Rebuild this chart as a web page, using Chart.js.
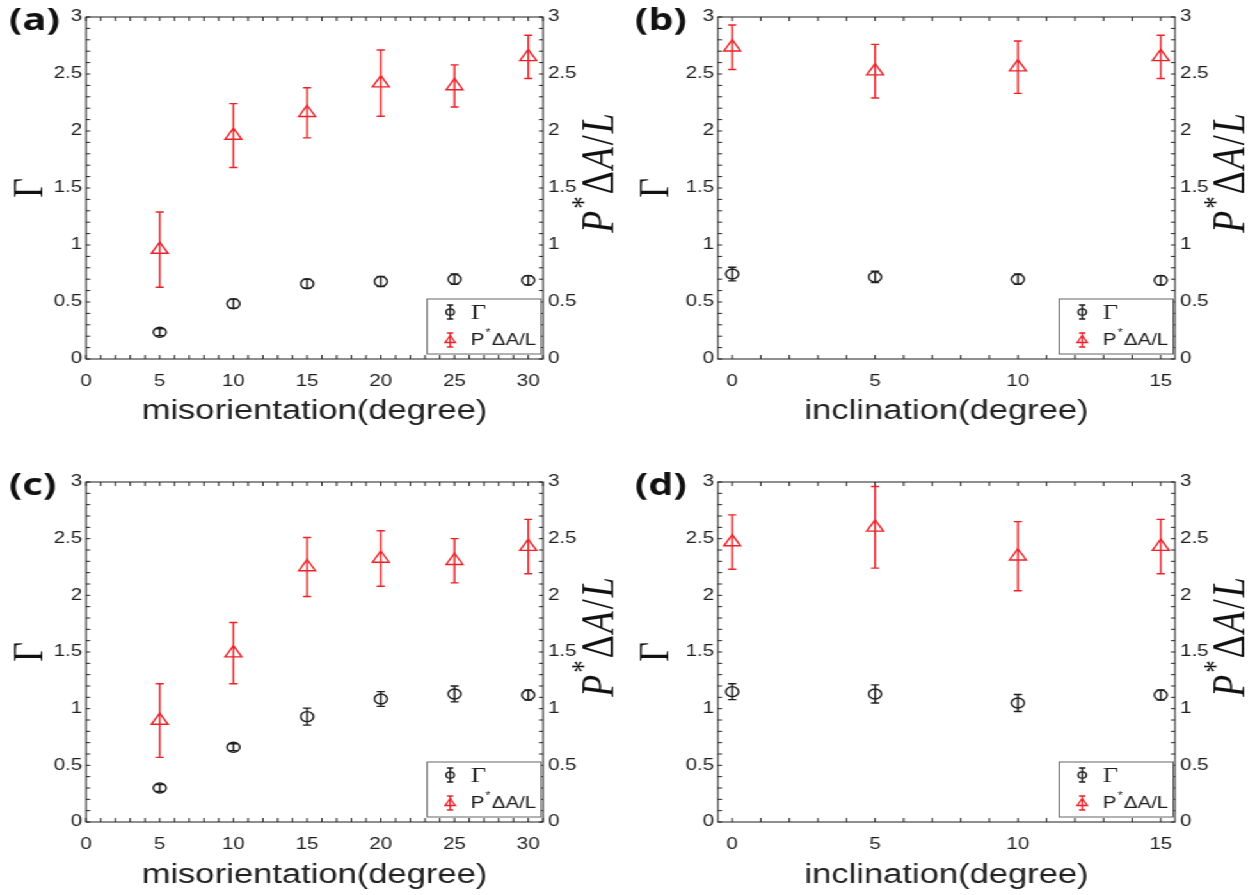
<!DOCTYPE html>
<html>
<head>
<meta charset="utf-8">
<script src="https://cdn.jsdelivr.net/npm/chart.js@4.4.1/dist/chart.umd.min.js"></script>
<style>
  html, body { margin: 0; padding: 0; background: #fff; }
  body { width: 1253px; height: 895px; overflow: hidden; position: relative; }
  /* the source figure is stretched sideways, so draw narrow and stretch */
  #stage { position: absolute; left: 0; top: 0; width: 979px; height: 895px;
           transform: scaleX(1.28); transform-origin: 0 0; }
  #stage canvas { position: absolute; }
</style>
</head>
<body>
<div id="stage">
  <canvas id="pa" width="489" height="445" style="left:0px;top:0px"></canvas>
  <canvas id="pb" width="490" height="445" style="left:489px;top:0px"></canvas>
  <canvas id="pc" width="489" height="450" style="left:0px;top:445px"></canvas>
  <canvas id="pd" width="490" height="450" style="left:489px;top:445px"></canvas>
</div>
<script>
const misorientation = [5, 10, 15, 20, 25, 30];
const inclination = [0, 5, 10, 15];
const misTicks = [0, 5, 10, 15, 20, 25, 30];
const incTicks = [0, 5, 10, 15];
const yTicks = [0, 0.5, 1, 1.5, 2, 2.5, 3];

// (a) misorientation
const gammaA = [0.235, 0.485, 0.66, 0.68, 0.70, 0.69];
const gammaErrA = [0.03, 0.04, 0.04, 0.045, 0.045, 0.04];
const pdalA = [0.96, 1.96, 2.16, 2.42, 2.395, 2.65];
const pdalErrA = [0.33, 0.28, 0.22, 0.29, 0.185, 0.19];
// (b) inclination
const gammaB = [0.745, 0.72, 0.70, 0.69];
const gammaErrB = [0.06, 0.05, 0.045, 0.04];
const pdalB = [2.735, 2.525, 2.56, 2.65];
const pdalErrB = [0.195, 0.235, 0.23, 0.19];
// (c) misorientation
const gammaC = [0.30, 0.66, 0.93, 1.085, 1.13, 1.12];
const gammaErrC = [0.03, 0.03, 0.075, 0.065, 0.07, 0.045];
const pdalC = [0.895, 1.49, 2.25, 2.325, 2.305, 2.43];
const pdalErrC = [0.325, 0.27, 0.26, 0.245, 0.195, 0.24];
// (d) inclination
const gammaD = [1.15, 1.13, 1.05, 1.12];
const gammaErrD = [0.07, 0.08, 0.075, 0.045];
const pdalD = [2.47, 2.60, 2.345, 2.43];
const pdalErrD = [0.24, 0.36, 0.305, 0.24];

const RED = "#ea2228";
const INK = "#1e1e1e";
const SANS = "'Liberation Sans', Arial, sans-serif";
const SERIF = "'Liberation Serif', 'Times New Roman', serif";

function pts(xs, ys) {
  return xs.map((x, i) => ({ x: x, y: ys[i] }));
}

// frame + inward ticks on all four sides
const framePlugin = {
  id: "frame",
  beforeDatasetsDraw(chart) {
    const { ctx, chartArea: a, scales } = chart;
    ctx.save();
    ctx.strokeStyle = INK;
    ctx.lineWidth = 1;
    ctx.beginPath();
    for (let v = Math.ceil(scales.x.min); v <= scales.x.max; v++) {
      const px = scales.x.getPixelForValue(v);
      ctx.moveTo(px, a.bottom); ctx.lineTo(px, a.bottom - 4);
      ctx.moveTo(px, a.top); ctx.lineTo(px, a.top + 4);
    }
    for (let i = 0; i <= 30; i++) {
      const py = scales.y.getPixelForValue(i / 10);
      ctx.moveTo(a.left, py); ctx.lineTo(a.left + 3.2, py);
      ctx.moveTo(a.right, py); ctx.lineTo(a.right - 3.2, py);
    }
    ctx.stroke();
    ctx.strokeRect(a.left, a.top, a.right - a.left, a.bottom - a.top);
    ctx.restore();
  }
};

const errorBarPlugin = {
  id: "errorBars",
  afterDatasetsDraw(chart) {
    const ctx = chart.ctx;
    ctx.save();
    chart.data.datasets.forEach((ds, i) => {
      const meta = chart.getDatasetMeta(i);
      const ys = chart.scales[meta.yAxisID];
      ctx.strokeStyle = ds.borderColor;
      ctx.lineWidth = 1.4;
      meta.data.forEach((pt, j) => {
        const v = ds.data[j].y, e = ds.errors[j];
        const y1 = ys.getPixelForValue(v + e);
        const y2 = ys.getPixelForValue(v - e);
        const cap = 3.2;
        ctx.beginPath();
        ctx.moveTo(pt.x, y1); ctx.lineTo(pt.x, y2);
        ctx.moveTo(pt.x - cap, y1); ctx.lineTo(pt.x + cap, y1);
        ctx.moveTo(pt.x - cap, y2); ctx.lineTo(pt.x + cap, y2);
        ctx.stroke();
      });
    });
    ctx.restore();
  }
};

// legend box, panel letter and the right axis title
const decorPlugin = {
  id: "decor",
  afterDraw(chart, args, opts) {
    const { ctx, chartArea: a } = chart;
    ctx.save();

    // legend
    const right = a.right - 1.5, bottom = a.bottom - 5;
    const left = right - 89, top = bottom - 55;
    ctx.fillStyle = "#fff";
    ctx.fillRect(left, top, right - left, bottom - top);
    ctx.strokeStyle = "#666";
    ctx.lineWidth = 1;
    ctx.strokeRect(left, top, right - left, bottom - top);
    const rows = [top + 13, top + 41];
    chart.data.datasets.forEach((ds, i) => {
      const cy = rows[i], mx = left + 18;
      ctx.strokeStyle = ds.borderColor;
      ctx.lineWidth = 1.3;
      ctx.beginPath();
      ctx.moveTo(mx, cy - 7); ctx.lineTo(mx, cy + 7);
      ctx.moveTo(mx - 2.5, cy - 7); ctx.lineTo(mx + 2.5, cy - 7);
      ctx.moveTo(mx - 2.5, cy + 7); ctx.lineTo(mx + 2.5, cy + 7);
      ctx.stroke();
      ctx.beginPath();
      if (ds.pointStyle === "circle") {
        ctx.arc(mx, cy, 3.2, 0, Math.PI * 2);
      } else {
        ctx.moveTo(mx, cy - 4.5);
        ctx.lineTo(mx + 4, cy + 2.5);
        ctx.lineTo(mx - 4, cy + 2.5);
        ctx.closePath();
      }
      ctx.stroke();
      ctx.fillStyle = INK;
      ctx.textBaseline = "middle";
      ctx.textAlign = "left";
      const tx = left + 34;
      if (ds.label.indexOf("*") < 0) {
        ctx.font = "21px " + SERIF;
        ctx.fillText(ds.label, tx, cy + 1);
      } else {
        const parts = ds.label.split("*");
        ctx.font = "16px " + SANS;
        ctx.fillText(parts[0], tx, cy + 1);
        let w = ctx.measureText(parts[0]).width + 1;
        ctx.font = "10px " + SANS;
        ctx.fillText("*", tx + w, cy - 7);
        w += ctx.measureText("*").width + 1;
        ctx.font = "16px " + SANS;
        ctx.fillText(parts[1], tx + w, cy + 1);
      }
    });

    // panel letter
    ctx.fillStyle = "#111";
    ctx.font = "bold 31px 'Open Sans', sans-serif";
    ctx.textAlign = "left";
    ctx.textBaseline = "middle";
    ctx.fillText(opts.letter, 7, a.top + 4);

    // right axis title, read bottom to top
    const pieces = [
      { t: "P", f: "italic 36px " + SERIF, dy: 0 },
      { t: "*", f: "25px " + SERIF, dy: -12 },
      { t: "\u0394", f: "36px " + SERIF, dy: 0 },
      { t: "A", f: "italic 36px " + SERIF, dy: 0 },
      { t: "/", f: "36px " + SERIF, dy: 0 },
      { t: "L", f: "italic 36px " + SERIF, dy: 0 }
    ];
    let total = 0;
    pieces.forEach(p => { ctx.font = p.f; p.w = ctx.measureText(p.t).width + 2; total += p.w; });
    ctx.translate(a.right + 45, (a.top + a.bottom) / 2 - 16);
    ctx.rotate(-Math.PI / 2);
    ctx.fillStyle = "#111";
    ctx.textBaseline = "middle";
    let x = -total / 2;
    pieces.forEach(p => { ctx.font = p.f; ctx.fillText(p.t, x, p.dy); x += p.w; });
    ctx.restore();
  }
};

function makePanel(id, letter, xs, gamma, gammaErr, pdal, pdalErr, xTicks, xMin, xMax, xTitle, box) {
  const canvas = document.getElementById(id);
  const W = canvas.width, H = canvas.height;
  const tickFont = { family: SANS, size: 16 };
  new Chart(canvas, {
    type: "scatter",
    data: {
      datasets: [
        {
          label: "\u0393",
          data: pts(xs, gamma),
          errors: gammaErr,
          yAxisID: "y",
          pointStyle: "circle",
          pointRadius: 5,
          borderColor: INK,
          backgroundColor: "rgba(0,0,0,0)",
          borderWidth: 1.4
        },
        {
          label: "P*\u0394A/L",
          data: pts(xs, pdal),
          errors: pdalErr,
          yAxisID: "y1",
          pointStyle: "triangle",
          pointRadius: 7.5,
          borderColor: RED,
          backgroundColor: "rgba(0,0,0,0)",
          borderWidth: 1.4
        }
      ]
    },
    options: {
      responsive: false,
      animation: false,
      events: [],
      layout: { padding: { top: box.top, left: 0, right: 0, bottom: 0 } },
      plugins: {
        legend: { display: false },
        tooltip: { enabled: false },
        decor: { letter: letter }
      },
      scales: {
        x: {
          type: "linear",
          min: xMin,
          max: xMax,
          grid: { display: false, drawTicks: false },
          border: { display: false },
          afterBuildTicks: (ax) => { ax.ticks = xTicks.map(v => ({ value: v })); },
          afterFit: (ax) => { ax.height = H - box.bottom; },
          ticks: { font: tickFont, color: INK, padding: 13, maxRotation: 0, autoSkip: false,
                   callback: (v) => String(v) },
          title: {
            display: true,
            text: xTitle,
            color: "#222",
            font: { family: SANS, size: 27 },
            padding: { top: 0, bottom: box.titlePad }
          }
        },
        y: {
          position: "left",
          min: 0,
          max: 3,
          grid: { display: false, drawTicks: false },
          border: { display: false },
          afterBuildTicks: (ax) => { ax.ticks = yTicks.map(v => ({ value: v })); },
          afterFit: (ax) => { ax.width = box.left; },
          ticks: { font: tickFont, color: INK, padding: 3, callback: (v) => String(v) },
          title: {
            display: true,
            text: "\u0393",
            color: "#111",
            font: { family: SERIF, size: 34 },
            padding: { top: 4, bottom: 0 }
          }
        },
        y1: {
          position: "right",
          min: 0,
          max: 3,
          grid: { display: false, drawTicks: false },
          border: { display: false },
          afterBuildTicks: (ax) => { ax.ticks = yTicks.map(v => ({ value: v })); },
          afterFit: (ax) => { ax.width = W - box.right; },
          ticks: { font: tickFont, color: INK, padding: 4, callback: (v) => String(v) }
        }
      }
    },
    plugins: [framePlugin, errorBarPlugin, decorPlugin]
  });
}

makePanel("pa", "(a)", misorientation, gammaA, gammaErrA, pdalA, pdalErrA, misTicks, 0, 31,
  "misorientation(degree)", { left: 67.2, right: 424.2, top: 17, bottom: 359, titlePad: 17 });
makePanel("pb", "(b)", inclination, gammaB, gammaErrB, pdalB, pdalErrB, incTicks, -0.5, 15.5,
  "inclination(degree)", { left: 71.9, right: 429, top: 17, bottom: 359, titlePad: 17 });
makePanel("pc", "(c)", misorientation, gammaC, gammaErrC, pdalC, pdalErrC, misTicks, 0, 31,
  "misorientation(degree)", { left: 67.2, right: 424.2, top: 37, bottom: 377, titlePad: 3 });
makePanel("pd", "(d)", inclination, gammaD, gammaErrD, pdalD, pdalErrD, incTicks, -0.5, 15.5,
  "inclination(degree)", { left: 71.9, right: 429, top: 37, bottom: 377, titlePad: 3 });
</script>
</body>
</html>
